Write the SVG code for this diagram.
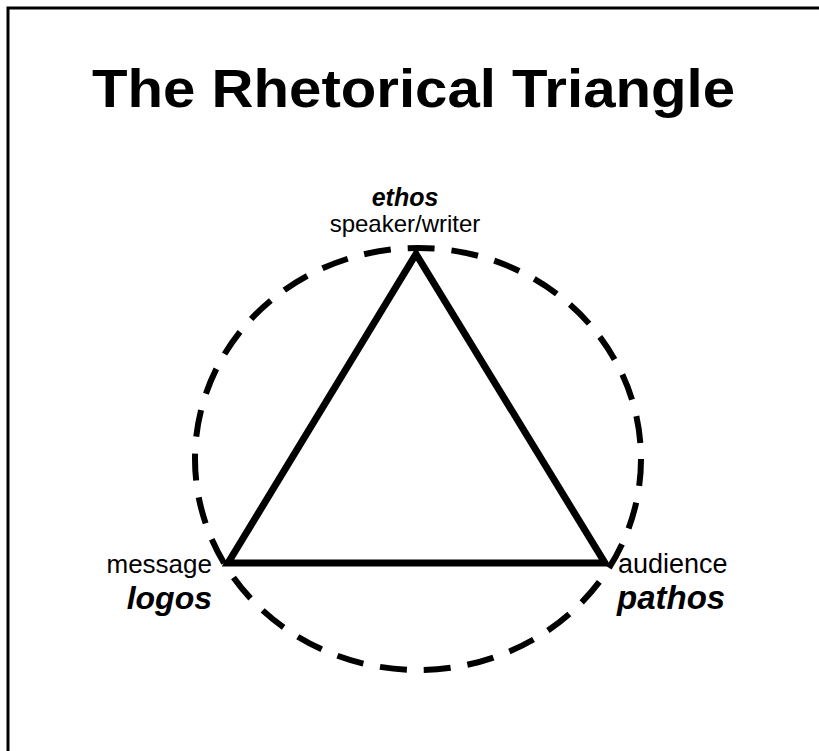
<svg xmlns="http://www.w3.org/2000/svg" width="819" height="751" viewBox="0 0 819 751">
<style>
.title{font-family:"Liberation Sans",Arial,sans-serif;font-weight:bold;font-size:54px;fill:#000}
.term{font-family:"Liberation Sans",Arial,sans-serif;font-weight:bold;font-style:italic;fill:#000}
.role{font-family:"Liberation Sans",Arial,sans-serif;fill:#000}
.frame{fill:none;stroke:#000;stroke-width:3}
.circle{fill:none;stroke:#000;stroke-width:6;stroke-dasharray:27 17}
.tri{fill:none;stroke:#000;stroke-width:7;stroke-linejoin:miter}
</style>
<rect width="819" height="751" fill="#fff"/>
<path class="frame" d="M8,751 V8 H819"/>
<text class="title" x="92" y="107" textLength="643" lengthAdjust="spacingAndGlyphs">The Rhetorical Triangle</text>
<g id="connectors">
<ellipse class="circle" cx="418" cy="459" rx="223" ry="211"/>
<polygon class="tri" points="416,254 228,563 605,563"/>
</g>
<g id="ethos">
<text class="term" x="405" y="206" font-size="25" text-anchor="middle">ethos</text>
<text class="role" x="405" y="232" font-size="24" text-anchor="middle">speaker/writer</text>
</g>
<g id="logos">
<text class="role" x="212" y="573" font-size="26" text-anchor="end">message</text>
<text class="term" x="212" y="609" font-size="32" text-anchor="end">logos</text>
</g>
<g id="pathos">
<text class="role" x="618" y="573" font-size="27">audience</text>
<text class="term" x="617" y="609" font-size="33">pathos</text>
</g>
</svg>
